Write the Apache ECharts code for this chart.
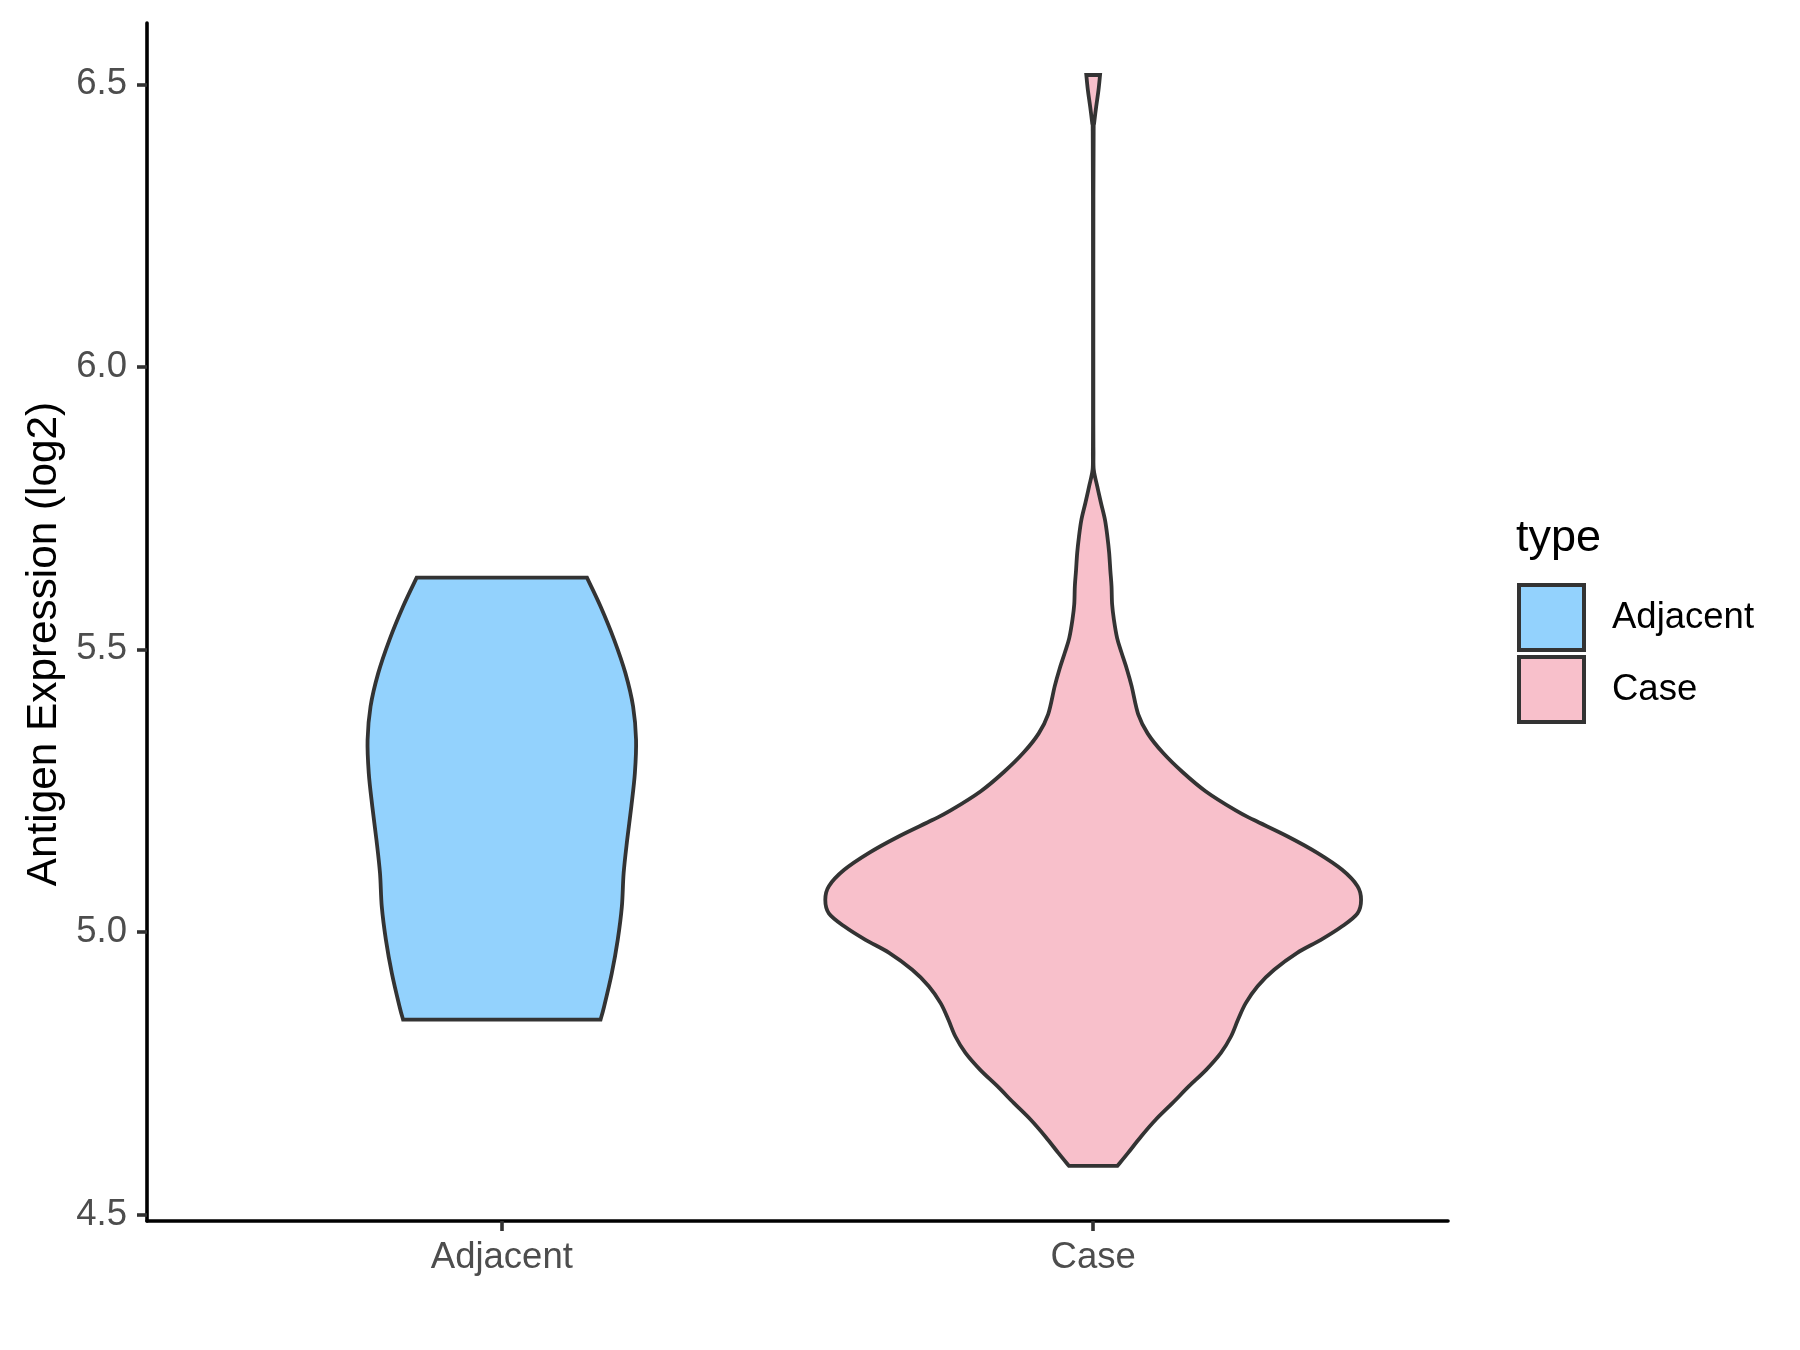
<!DOCTYPE html>
<html><head><meta charset="utf-8">
<script src="https://cdn.jsdelivr.net/npm/echarts@6/dist/echarts.min.js"></script>
<style>html,body{margin:0;padding:0;background:#fff}#c{width:1800px;height:1350px}</style>
</head><body><div id="c"></div>
<script>
const categories = ['Adjacent', 'Case'];
const yTickValues = [4.5, 5.0, 5.5, 6.0, 6.5];
const xTickValues = [1, 2];
// violin outlines: value (log2) and half-width (category units), listed top to bottom
const adjacentY = [5.627, 5.576, 5.517, 5.458, 5.399, 5.340, 5.281, 5.222, 5.163, 5.104, 5.045, 4.986, 4.927, 4.868, 4.845];
const adjacentHalfWidth = [0.144, 0.167, 0.190, 0.209, 0.222, 0.227, 0.225, 0.219, 0.212, 0.206, 0.203, 0.196, 0.186, 0.173, 0.167];
const caseY = [6.5165, 6.49, 6.46, 6.43, 6.417, 6.3, 6.1, 5.9, 5.85, 5.818, 5.789, 5.76, 5.730, 5.70, 5.671, 5.64, 5.612, 5.58, 5.553, 5.52, 5.494, 5.465, 5.435, 5.385, 5.351, 5.317, 5.283, 5.249, 5.215, 5.198, 5.169, 5.140, 5.110, 5.081, 5.057, 5.033, 5.010, 4.986, 4.963, 4.933, 4.904, 4.874, 4.845, 4.815, 4.786, 4.756, 4.727, 4.697, 4.668, 4.638, 4.609, 4.586];
const caseHalfWidth = [0.0116, 0.009, 0.005, 0.0015, 0.0008, 0.0004, 0.0003, 0.0003, 0.0005, 0.001, 0.0068, 0.013, 0.0198, 0.024, 0.027, 0.029, 0.031, 0.032, 0.035, 0.0405, 0.048, 0.057, 0.065, 0.0762, 0.0923, 0.118, 0.151, 0.190, 0.241, 0.272, 0.329, 0.379, 0.421, 0.447, 0.453, 0.447, 0.421, 0.385, 0.345, 0.306, 0.278, 0.258, 0.245, 0.233, 0.216, 0.191, 0.162, 0.134, 0.106, 0.081, 0.059, 0.041];
const fillColors = ['#93D2FD', '#F8C0CB'];

const FONT = 'Liberation Sans, Arial, sans-serif';
const OUTLINE = '#333333';

function crSeg(p) {
  let s = '';
  for (let i = 0; i < p.length - 1; i++) {
    const p0 = p[Math.max(i - 1, 0)], p1 = p[i], p2 = p[i + 1], p3 = p[Math.min(i + 2, p.length - 1)];
    const c1 = [p1[0] + (p2[0] - p0[0]) / 6, p1[1] + (p2[1] - p0[1]) / 6];
    const c2 = [p2[0] - (p3[0] - p1[0]) / 6, p2[1] - (p3[1] - p1[1]) / 6];
    s += ' C' + c1[0] + ' ' + c1[1] + ' ' + c2[0] + ' ' + c2[1] + ' ' + p2[0] + ' ' + p2[1];
  }
  return s;
}

function violinRender(ys, ws, fill) {
  return function (params, api) {
    const xc = api.value(0);
    const right = ys.map((y, i) => api.coord([xc + ws[i], y]));
    const left = ys.map((y, i) => api.coord([xc - ws[i], y])).reverse();
    let d = 'M' + right[0][0] + ' ' + right[0][1] + crSeg(right);
    d += ' L' + left[0][0] + ' ' + left[0][1] + crSeg(left) + ' Z';
    return {
      type: 'path',
      shape: { pathData: d },
      style: { fill: fill, stroke: OUTLINE, lineWidth: 3.8 }
    };
  };
}

const chart = echarts.init(document.getElementById('c'), null, { renderer: 'canvas' });
chart.setOption({
  animation: false,
  backgroundColor: '#ffffff',
  grid: { left: 147, right: 352, top: 23, bottom: 129, containLabel: false },
  xAxis: {
    type: 'value', min: 0.4, max: 2.6,
    axisLine: { show: true, onZero: false, lineStyle: { color: '#000', width: 3.6 } },
    axisTick: { show: true, customValues: xTickValues, length: 10, lineStyle: { color: '#333', width: 3.6 } },
    axisLabel: { customValues: xTickValues, formatter: v => categories[Math.round(v) - 1], fontSize: 36.5, color: '#4D4D4D', fontFamily: FONT, margin: 18 },
    splitLine: { show: false }
  },
  yAxis: {
    type: 'value', min: 4.4885, max: 6.6085,
    axisLine: { show: true, onZero: false, lineStyle: { color: '#000', width: 3.6 } },
    axisTick: { show: true, customValues: yTickValues, length: 10, lineStyle: { color: '#333', width: 3.6 } },
    axisLabel: { customValues: yTickValues, formatter: v => v.toFixed(1), fontSize: 36.5, color: '#4D4D4D', fontFamily: FONT, margin: 20 },
    splitLine: { show: false }
  },
  legend: {
    orient: 'vertical', left: 1517, top: 583, padding: 0,
    itemWidth: 65, itemHeight: 65, itemGap: 3,
    icon: 'rect',
    textStyle: { fontSize: 36.5, color: '#000', fontFamily: FONT, padding: [0, 0, 0, 23] },
    data: [
      { name: 'Adjacent', itemStyle: { color: fillColors[0], borderColor: OUTLINE, borderWidth: 4 } },
      { name: 'Case', itemStyle: { color: fillColors[1], borderColor: OUTLINE, borderWidth: 4 } }
    ]
  },
  graphic: [{
    type: 'text', left: 1516, top: 516,
    style: { text: 'type', fontSize: 45, fill: '#000', fontFamily: FONT }
  }, {
    type: 'text', x: 44, y: 644, rotation: Math.PI / 2,
    style: { text: 'Antigen Expression (log2)', fontSize: 42.3, fill: '#000', fontFamily: FONT, align: 'center', verticalAlign: 'middle' }
  }],
  series: [
    { name: 'Adjacent', type: 'custom', data: [[1, 5.2]], itemStyle: { color: fillColors[0], borderColor: OUTLINE },
      renderItem: violinRender(adjacentY, adjacentHalfWidth, fillColors[0]) },
    { name: 'Case', type: 'custom', data: [[2, 5.2]], itemStyle: { color: fillColors[1], borderColor: OUTLINE },
      renderItem: violinRender(caseY, caseHalfWidth, fillColors[1]) }
  ]
});
</script></body></html>
